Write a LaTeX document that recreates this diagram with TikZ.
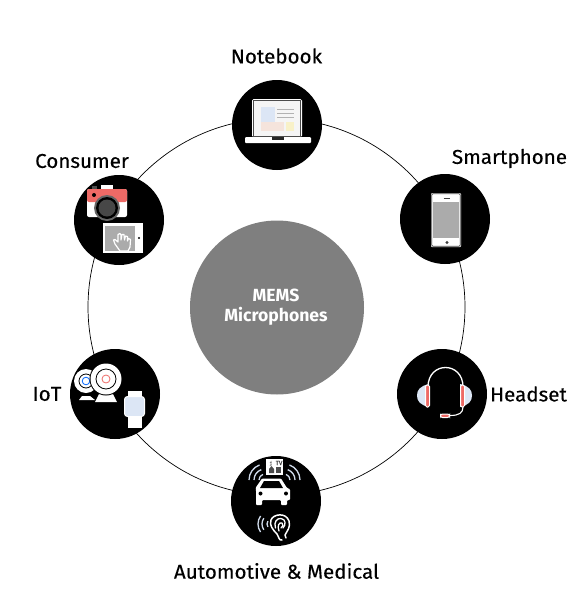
\documentclass[tikz,border=0pt]{standalone}
\usepackage{fontspec}
\setmainfont[FakeBold=0.35,FakeStretch=1.03]{Fira Sans}
\newfontfamily\hubfont{Fira Sans}
\definecolor{hubgray}{HTML}{7F7F7F}
\definecolor{screengray}{HTML}{ABABAB}
\definecolor{camred}{HTML}{EE6A66}
\definecolor{paleblue}{HTML}{DCE6F5}
\definecolor{palepink}{HTML}{F5E4DC}
\definecolor{paleyellow}{HTML}{F8F1C8}
\definecolor{wavecol}{HTML}{CFDAEA}
\tikzset{
  blackdisc/.style={circle, fill=black, minimum size=90pt, inner sep=0pt},
  itemlabel/.style={font=\fontsize{20}{20}\selectfont, text=black, inner sep=0pt},
  hublabel/.style={font=\hubfont\bfseries\fontsize{17.6}{18}\selectfont, text=white, inner sep=0pt},
  wline/.style={draw=white, line cap=round, line join=round},
}
\begin{document}
\begin{tikzpicture}[x=1pt,y=-1pt]
\useasboundingbox (0,0) rectangle (580,595);
\node[circle, draw=black, line width=0.7pt, minimum size=377pt, inner sep=0pt] (ring) at (276.5,307) {};
\node[circle, fill=hubgray, minimum size=174pt, inner sep=0pt] (hub) at (277,307.5) {};
\node[hublabel] (mems) at (276,295.5) {MEMS};
\node[hublabel] (micro) at (276,316.5) {Microphones};

\node[blackdisc] (notebook) at (277,125) {};
\node[blackdisc] (consumer) at (119,220) {};
\node[blackdisc] (smartphone) at (445,219) {};
\node[blackdisc] (headset) at (442,394) {};
\node[blackdisc] (iot) at (115,394) {};
\node[blackdisc] (automotive) at (276,501) {};

\node[itemlabel] (notebooktext) at (276.5,56) {Notebook};
\node[itemlabel] (consumertext) at (82,161) {Consumer};
\node[itemlabel] (smartphonetext) at (509.5,158.5) {Smartphone};
\node[itemlabel] (headsettext) at (528.5,394) {Headset};
\node[itemlabel] (iottext) at (47,394) {IoT};
\node[itemlabel] (automotivetext) at (276.5,571) {Automotive \& Medical};

% laptop
\fill[white, rounded corners=1.5pt] (252,99) rectangle (302,137);
\fill[black!70] (253.4,100.4) rectangle (300.6,137);
\fill[white!96!black] (254,101) rectangle (300,136);
\fill[paleblue] (261,107) rectangle (275,122);
\fill[palepink] (261,122) rectangle (284,131);
\fill[paleyellow] (286,122) rectangle (294,131);
\foreach \y in {109.5,113,117}
  \draw[gray!60, line width=0.8pt] (277,\y) -- (294,\y);
\fill[white, rounded corners=1pt] (245,137) rectangle (311,143);
\fill[black!85] (272,137) rectangle (284,139.5);

% camera
\fill[white] (101,185) rectangle (113,190);
\fill[black!70] (92,186) rectangle (97,190);
\fill[white, rounded corners=2pt] (87,189) rectangle (127,217);
\fill[camred, rounded corners=2pt] (87,189) -- (127,189) -- (127,202) -- (87,202) -- cycle;
\fill[black] (94,195) circle[radius=2];
\fill[gray!80!black] (107,208) circle[radius=13];
\fill[black] (107,208) circle[radius=11];
\fill[black!72] (107,208) circle[radius=8.5];

% tablet
\fill[white] (103,223) rectangle (143,253);
\fill[screengray] (105,226) rectangle (135,251);
\fill[black] (139,238) circle[radius=1.1];
\draw[wline, fill=screengray, line width=1.2pt]
  (120,251) -- (115,244) -- (113.5,240) -- (115,239.5) -- (118,242)
  -- (118,234.5) -- (120,233.5) -- (121,235) -- (121,240)
  -- (122,234.5) -- (124,234.5) -- (124.5,240)
  -- (125.5,236) -- (127.5,236.5) -- (127.5,241)
  -- (128.5,238.5) -- (130.5,239.5) -- (130,247) -- (128,251) -- cycle;

% phone
\fill[white, rounded corners=1pt] (431,193) rectangle (461,247);
\draw[black!75, line width=0.8pt, rounded corners=1pt] (431.8,193.8) rectangle (460.2,246.2);
\fill[screengray] (433,202) rectangle (459,238);
\draw[black!75, line width=1pt] (443.5,198) -- (449.5,198);
\fill[black!75] (447,242.5) circle[radius=1.7];

% headset
\draw[wline, line width=1.3pt] (428,387) .. controls (428,361) and (463,361) .. (463,387);
\fill[paleblue] (429,384) .. controls (420,386) and (417,390) .. (417,395.5)
  .. controls (417,401) and (420,405) .. (429,407) -- cycle;
\fill[paleblue] (460,384) .. controls (469,386) and (472,390) .. (472,395.5)
  .. controls (472,401) and (469,405) .. (460,407) -- cycle;
\draw[white, fill=camred, line width=1pt, rounded corners=1.5pt] (425.5,385) rectangle (429.5,407);
\draw[white, fill=camred, line width=1pt, rounded corners=1.5pt] (460.5,385) rectangle (464.5,407);
\draw[wline, line width=1.1pt] (463,407) .. controls (463,413) and (459,415.5) .. (450,415.5);
\draw[white, fill=camred, line width=1pt, rounded corners=2pt] (440.5,414) rectangle (449.5,417.5);

% webcams
\fill[white] (79,400) -- (82,396) -- (90,396) -- (95,400) -- cycle;
\fill[white] (86,381) circle[radius=12];
\draw[black, line width=0.8pt] (86,381) circle[radius=7];
\draw[blue!60!cyan, line width=0.8pt] (86,381) circle[radius=3.8];
\fill[white] (95,402) -- (99,394) -- (113,394) -- (117,402) -- cycle;
\fill[black] (106,379) circle[radius=16.5];
\fill[white] (106,379) circle[radius=15.5];
\draw[black, line width=0.8pt] (106,379) circle[radius=10];
\draw[camred, line width=0.8pt] (106,379) circle[radius=4];

% watch
\fill[white] (128,391) rectangle (142,397);
\fill[white] (128,416) rectangle (142,428);
\draw[white, fill=paleblue, line width=1pt, rounded corners=3pt] (124.5,396.5) rectangle (144.5,416.5);

% car
\fill[white, rounded corners=1pt] (255.5,488) -- (262,478.5) -- (281,478.5) -- (287,488)
  -- (290,489) -- (290,500) -- (287,500) -- (287,505) -- (281,505) -- (281,500)
  -- (262,500) -- (262,505) -- (259.5,505) -- (256,505) -- (256,500) -- (256,490) -- cycle;
\fill[black] (264,481) -- (279,481) -- (283,488) -- (260,488) -- cycle;
\fill[black] (260.5,493.5) circle[radius=2];
\fill[black] (286,493.5) circle[radius=2];

% screen over the car
\fill[white] (266,459) rectangle (283,475);
\node[font=\fontsize{6}{6}\selectfont, text=black!75, inner sep=0pt] (tvtext) at (279,463) {TV};
\node[font=\fontsize{6}{6}\selectfont, text=black!75, inner sep=0pt] (notetext) at (271,463.5) {$\sharp$};
\fill[black!70] (269,469) -- (271.5,466) -- (274,469) -- (274,473) -- (269,473) -- cycle;
\fill[black!70] (276,467) rectangle (281,472.5);

% waves
\foreach \r in {6,11,16} {
  \draw[wavecol, line width=1.3pt] (265,480) ++(180:\r) arc[start angle=180, end angle=250, radius=\r];
  \draw[wavecol, line width=1.3pt] (284,480) ++(0:\r) arc[start angle=0, end angle=-70, radius=\r];
}

% ear
\draw[wline, line width=1.5pt] (282,540) .. controls (279,541) and (279,537) .. (277,534)
  .. controls (273,530) and (269,525) .. (271,520)
  .. controls (273,514) and (286,512) .. (289,521)
  .. controls (291,527) and (287,531) .. (285,535) -- (286,538);
\draw[wline, line width=1.3pt] (275.5,528) .. controls (273.5,522) and (277,518) .. (281,518.5)
  .. controls (286,519) and (286,525) .. (283,528);
\draw[wline, line width=1.3pt] (279,531) .. controls (277,526) and (279,522) .. (282,523)
  .. controls (284,524) and (283,527) .. (281,528);
\foreach \r in {5,10,14}
  \draw[wavecol, line width=1.3pt] (272,524) ++(145:\r) arc[start angle=145, end angle=215, radius=\r];
\end{tikzpicture}
\end{document}
